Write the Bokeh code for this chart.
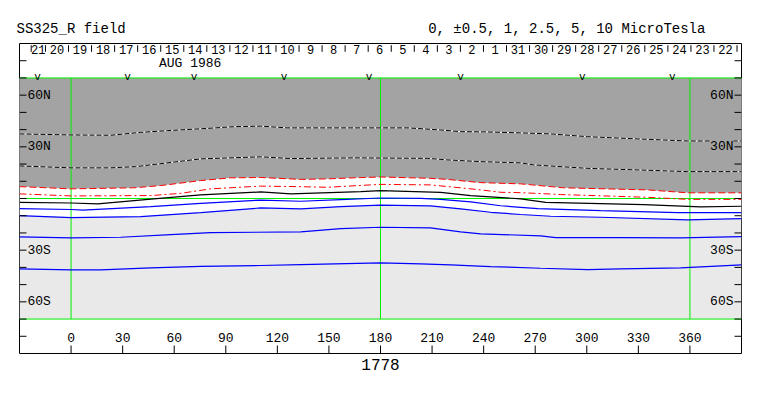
from bokeh.plotting import figure
from bokeh.models import Range1d, Title
from bokeh.core.properties import value
from bokeh.embed import file_html
from bokeh.resources import INLINE

# ---- contour lines (Carrington longitude, latitude) ----
dot_hi_lon = [-30, 0, 23, 40.5, 56, 79.3, 94.6, 110.3, 126, 196, 215, 226.6, 240, 261.5, 279, 300.5, 329.6, 358.7, 390]
dot_hi_lat = [37.5, 36.9, 36.7, 38.4, 39.4, 40.7, 41.7, 42.0, 41.0, 41.0, 39.8, 38.8, 38.7, 38.1, 37.5, 35.9, 34.6, 33.4, 33.4]

dot_lo_lon = [-30, 0, 23, 37.6, 75.4, 110.3, 127.8, 164.4, 207.4, 219, 238.3, 261.5, 269.1, 300.5, 329.6, 358.7, 390]
dot_lo_lat = [18.9, 17.8, 17.8, 18.5, 23.0, 24.2, 23.2, 23.6, 23.3, 22.4, 21.4, 20.7, 19.5, 17.5, 16.6, 15.6, 15.6]

red_dash_lon = [-30, 0, 36.5, 52.2, 75.4, 92.9, 110.3, 133.6, 149.3, 164.4, 180, 209, 219, 238.3, 261.5, 286.6, 335.4, 358.7, 390]
red_dash_lat = [6.9, 5.6, 6.2, 7.5, 10.4, 12.0, 12.2, 11.1, 11.4, 12.0, 12.5, 11.7, 11.1, 9.2, 8.5, 6.2, 5.0, 3.3, 3.3]

red_dashdot_lon = [-30, 0, 46.4, 63.8, 81.2, 110.3, 131.8, 149.3, 166.7, 180, 209, 226.6, 238.3, 250, 261.5, 284.8, 335.4, 358.7, 390]
red_dashdot_lat = [2.7, 1.5, 1.7, 3.0, 5.6, 7.2, 6.9, 6.5, 7.5, 8.2, 7.9, 6.2, 5.0, 3.6, 3.4, 2.3, 0.7, -0.5, -0.5]

black_lon = [-30, 0, 15.5, 48.1, 75.4, 110.3, 127.8, 168.5, 180, 215, 232.5, 261.5, 276.1, 333.1, 366.2, 390]
black_lat = [-2.2, -2.6, -3.1, -0.2, 2.1, 3.8, 2.7, 4.0, 4.6, 3.6, 1.7, -0.2, -2.2, -3.5, -4.9, -4.5]

blue1_lon = [-30, 0, 6.8, 46.4, 75.4, 110.3, 133.6, 156.9, 180, 203.4, 215, 232.5, 249.9, 261.5, 271.4, 308.1, 352.8, 390]
blue1_lat = [-5.9, -6.4, -6.8, -4.7, -2.8, -0.9, -1.6, -0.6, 0.3, 0.1, -0.5, -2.0, -4.2, -5.1, -5.9, -7.0, -8.2, -8.2]

blue2_lon = [-30, 0, 40.5, 75.4, 110.3, 133.6, 156.9, 180, 209, 226.6, 244.1, 261.5, 279, 308.1, 358.7, 390]
blue2_lat = [-9.9, -11.1, -10.5, -8.2, -5.5, -6.0, -4.7, -3.9, -4.3, -6.0, -8.0, -9.3, -10.3, -10.9, -12.4, -11.7]

blue3_lon = [-30, 0, 28.9, 58, 81.2, 133.6, 156.9, 180, 209, 226.6, 238.3, 273.2, 281.9, 319.7, 354.6, 390]
blue3_lat = [-22.3, -22.9, -22.5, -21.0, -19.8, -19.4, -17.5, -16.7, -17.1, -19.4, -20.5, -21.7, -22.7, -22.7, -22.9, -22.1]

blue4_lon = [-30, 0, 17.3, 46.4, 75.4, 110.3, 133.6, 180, 203.4, 220.8, 244.1, 273.2, 300.5, 319.7, 354.6, 390]
blue4_lat = [-40.9, -41.4, -41.4, -40.3, -39.4, -38.9, -38.4, -37.4, -38.0, -38.5, -39.5, -40.5, -41.3, -40.9, -40.3, -38.5]

# ---- axes / labels ----
lon_min, lon_max = -30, 390
lat_min, lat_max = -90, 90
lon_ticks = [0, 30, 60, 90, 120, 150, 180, 210, 240, 270, 300, 330, 360]
lon_tick_labels = ["0", "30", "60", "90", "120", "150", "180", "210", "240", "270", "300", "330", "360"]
lat_ticks = [-80, -70, -60, -50, -40, -30, -20, -10, 0, 10, 20, 30, 40, 50, 60, 70, 80]
lat_label_vals = [60, 30, -30, -60]
lat_label_text = ["60N", "30N", "30S", "60S"]
day_labels = ["21", "20", "19", "18", "17", "16", "15", "14", "13", "12", "11", "10", "9", "8", "7",
              "6", "5", "4", "3", "2", "1", "31", "30", "29", "28", "27", "26", "25", "24", "23", "22"]
day_first_tick = -23.2      # start of date scale (longitude)
day_boundary0 = -14.9       # first full day boundary (longitude)
deg_per_day = 13.41
v_mark_lon = [-19.5, 32.8, 71.5, 123.9, 173.3, 226.6, 297.4, 349.8]
month_text = "AUG 1986"
month_lon = 69.3
rotation_text = "1778"
title_text = "SS325_R field"
units_text = "0, \u00b10.5, 1, 2.5, 5, 10 MicroTesla"
data_lat_limit = 70

FONT = value("Liberation Mono")
DARK = "#A3A3A3"
LIGHT = "#E9E9E9"
GREEN = "#00F000"

FRAME_W, FRAME_H = 722, 310
p = figure(width=763, height=390, output_backend="svg", toolbar_location=None,
           x_range=Range1d(lon_min, lon_max), y_range=Range1d(lat_min, lat_max),
           min_border_left=19, min_border_right=22, min_border_top=43, min_border_bottom=37)
p.xaxis.visible = False
p.yaxis.visible = False
p.xgrid.visible = False
p.ygrid.visible = False
p.outline_line_color = "black"
p.outline_line_width = 1
p.background_fill_color = "white"
p.border_fill_color = "white"

# titles (outside the frame)
head = title_text + "\u00a0" * 36 + units_text
p.add_layout(Title(text=head, align="left", offset=-3, standoff=13,
                   text_font="Liberation Mono", text_font_size="14px", text_font_style="normal",
                   text_color="black"), "above")
p.add_layout(Title(text=rotation_text, align="center", standoff=6,
                   text_font="Liberation Mono", text_font_size="16px", text_font_style="normal",
                   text_color="black"), "below")

# pixel sizes of ticks expressed in data units
dx = (lon_max - lon_min) / FRAME_W
dy = (lat_max - lat_min) / FRAME_H

# shaded field regions
x_full = [lon_min, lon_max]
p.varea(x=x_full, y1=[-data_lat_limit] * 2, y2=[data_lat_limit] * 2, fill_color=LIGHT)
p.varea(x=blue2_lon, y1=blue2_lat, y2=data_lat_limit, fill_color="white")
p.varea(x=red_dash_lon, y1=red_dash_lat, y2=data_lat_limit, fill_color=DARK)

# green reference lines
p.segment(x0=[0, 180, 360], y0=[-data_lat_limit] * 3, x1=[0, 180, 360], y1=[data_lat_limit] * 3,
          line_color=GREEN, line_width=1)
p.segment(x0=[lon_min] * 3, y0=[data_lat_limit, 0, -data_lat_limit], x1=[lon_max] * 3,
          y1=[data_lat_limit, 0, -data_lat_limit], line_color=GREEN, line_width=1)

# contours
for lx, ly in ((dot_hi_lon, dot_hi_lat), (dot_lo_lon, dot_lo_lat)):
    p.line(lx, ly, line_color="white", line_width=1)
    p.line(lx, ly, line_color="black", line_width=1, line_dash="5 2")
p.line(red_dash_lon, red_dash_lat, line_color="red", line_width=1, line_dash="7 3")
p.line(red_dashdot_lon, red_dashdot_lat, line_color="red", line_width=1, line_dash="7 3 2 3")
p.line(black_lon, black_lat, line_color="black", line_width=1.2)
for lx, ly in ((blue1_lon, blue1_lat), (blue2_lon, blue2_lat), (blue3_lon, blue3_lat), (blue4_lon, blue4_lat)):
    p.line(lx, ly, line_color="blue", line_width=1.2)

# inward tick marks (latitude on both sides, longitude at bottom)
n = len(lat_ticks)
p.segment(x0=[lon_min] * n, y0=lat_ticks, x1=[lon_min + 7 * dx] * n, y1=lat_ticks, line_color="black", line_width=1)
p.segment(x0=[lon_max - 7 * dx] * n, y0=lat_ticks, x1=[lon_max] * n, y1=lat_ticks, line_color="black", line_width=1)
m = len(lon_ticks)
p.segment(x0=lon_ticks, y0=[lat_min] * m, x1=lon_ticks, y1=[lat_min + 8 * dy] * m, line_color="black", line_width=1)

# latitude labels (inside frame)
north = [i for i, v in enumerate(lat_label_vals) if v > 0]
south = [i for i, v in enumerate(lat_label_vals) if v < 0]
for idx, bg in ((north, DARK), (south, LIGHT)):
    ys = [lat_label_vals[i] for i in idx]
    ts = [lat_label_text[i] for i in idx]
    p.text(x=[lon_min + 8 * dx] * len(ys), y=ys, text=ts, text_font=FONT, text_font_size=value("13px"),
           text_align="left", text_baseline="middle", text_color="black",
           background_fill_color=bg)
    p.text(x=[lon_max - 8 * dx] * len(ys), y=ys, text=ts, text_font=FONT, text_font_size=value("13px"),
           text_align="right", text_baseline="middle", text_color="black",
           background_fill_color=bg)

# longitude tick labels (inside frame, above bottom ticks)
p.text(x=lon_ticks, y=[lat_min + 16 * dy] * m, text=lon_tick_labels, text_font=FONT,
       text_font_size=value("13px"), text_align="center", text_baseline="middle", text_color="black")

# date scale along top
day_ticks = [day_first_tick] + [day_boundary0 + k * deg_per_day for k in range(len(day_labels))]
day_centers = [(day_ticks[i] + day_ticks[i + 1]) / 2 for i in range(len(day_labels))]
p.segment(x0=day_ticks, y0=[lat_max - 8.3 * dy] * len(day_ticks), x1=day_ticks,
          y1=[lat_max - 1.7 * dy] * len(day_ticks), line_color="black", line_width=1)
p.text(x=day_centers, y=[lat_max - 6 * dy] * len(day_centers), text=day_labels, text_font=FONT,
       text_font_size=value("12px"), text_align="center", text_baseline="middle", text_color="black")
p.text(x=[month_lon], y=[lat_max - 19.5 * dy], text=[month_text], text_font=FONT, text_font_size=value("13px"),
       text_align="center", text_baseline="middle", text_color="black")
p.text(x=v_mark_lon, y=[data_lat_limit + 1 * dy] * len(v_mark_lon), text=["v"] * len(v_mark_lon), text_font=FONT,
       text_font_size=value("11px"), text_align="center", text_baseline="alphabetic", text_color="black")

open("out.html", "w").write(file_html(p, INLINE))
